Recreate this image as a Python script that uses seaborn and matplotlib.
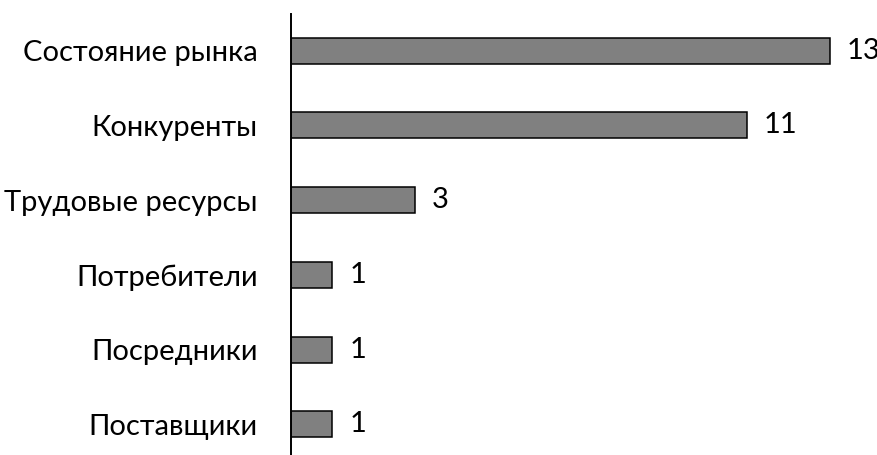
import matplotlib
matplotlib.use("Agg")
import matplotlib.pyplot as plt
import seaborn as sns
import pandas as pd

# Factors and the number of mentions for each
factors = ["Состояние рынка", "Конкуренты", "Трудовые ресурсы",
           "Потребители", "Посредники", "Поставщики"]
counts = [13, 11, 3, 1, 1, 1]

sns.set_style("white")
plt.rcParams["font.family"] = ["Lato", "Open Sans", "DejaVu Sans"]

df = pd.DataFrame({"factor": factors, "count": counts})

fig = plt.figure(figsize=(8.77, 4.55), dpi=100)
ax = fig.add_axes([291 / 877, 0.0, 1 - 291 / 877, 1 - 14 / 455])

sns.barplot(data=df, x="count", y="factor", orient="h", ax=ax,
            color="#808080", edgecolor="black", linewidth=1.1,
            width=0.35, saturation=1)

for c in ax.containers:
    ax.bar_label(c, labels=[str(v) for v in counts], padding=12,
                 fontsize=21, color="black")

ax.set_xlim(0, 586 / 41.46)
ax.set_ylim(5.41, -0.49)
ax.set_xlabel("")
ax.set_ylabel("")
ax.set_xticks([])
ax.tick_params(axis="y", length=0, pad=24, labelsize=21, labelcolor="black")

for side in ["top", "right", "bottom"]:
    ax.spines[side].set_visible(False)
ax.spines["left"].set_color("black")
ax.spines["left"].set_linewidth(1.4)

fig.savefig("out.png", dpi=100)
